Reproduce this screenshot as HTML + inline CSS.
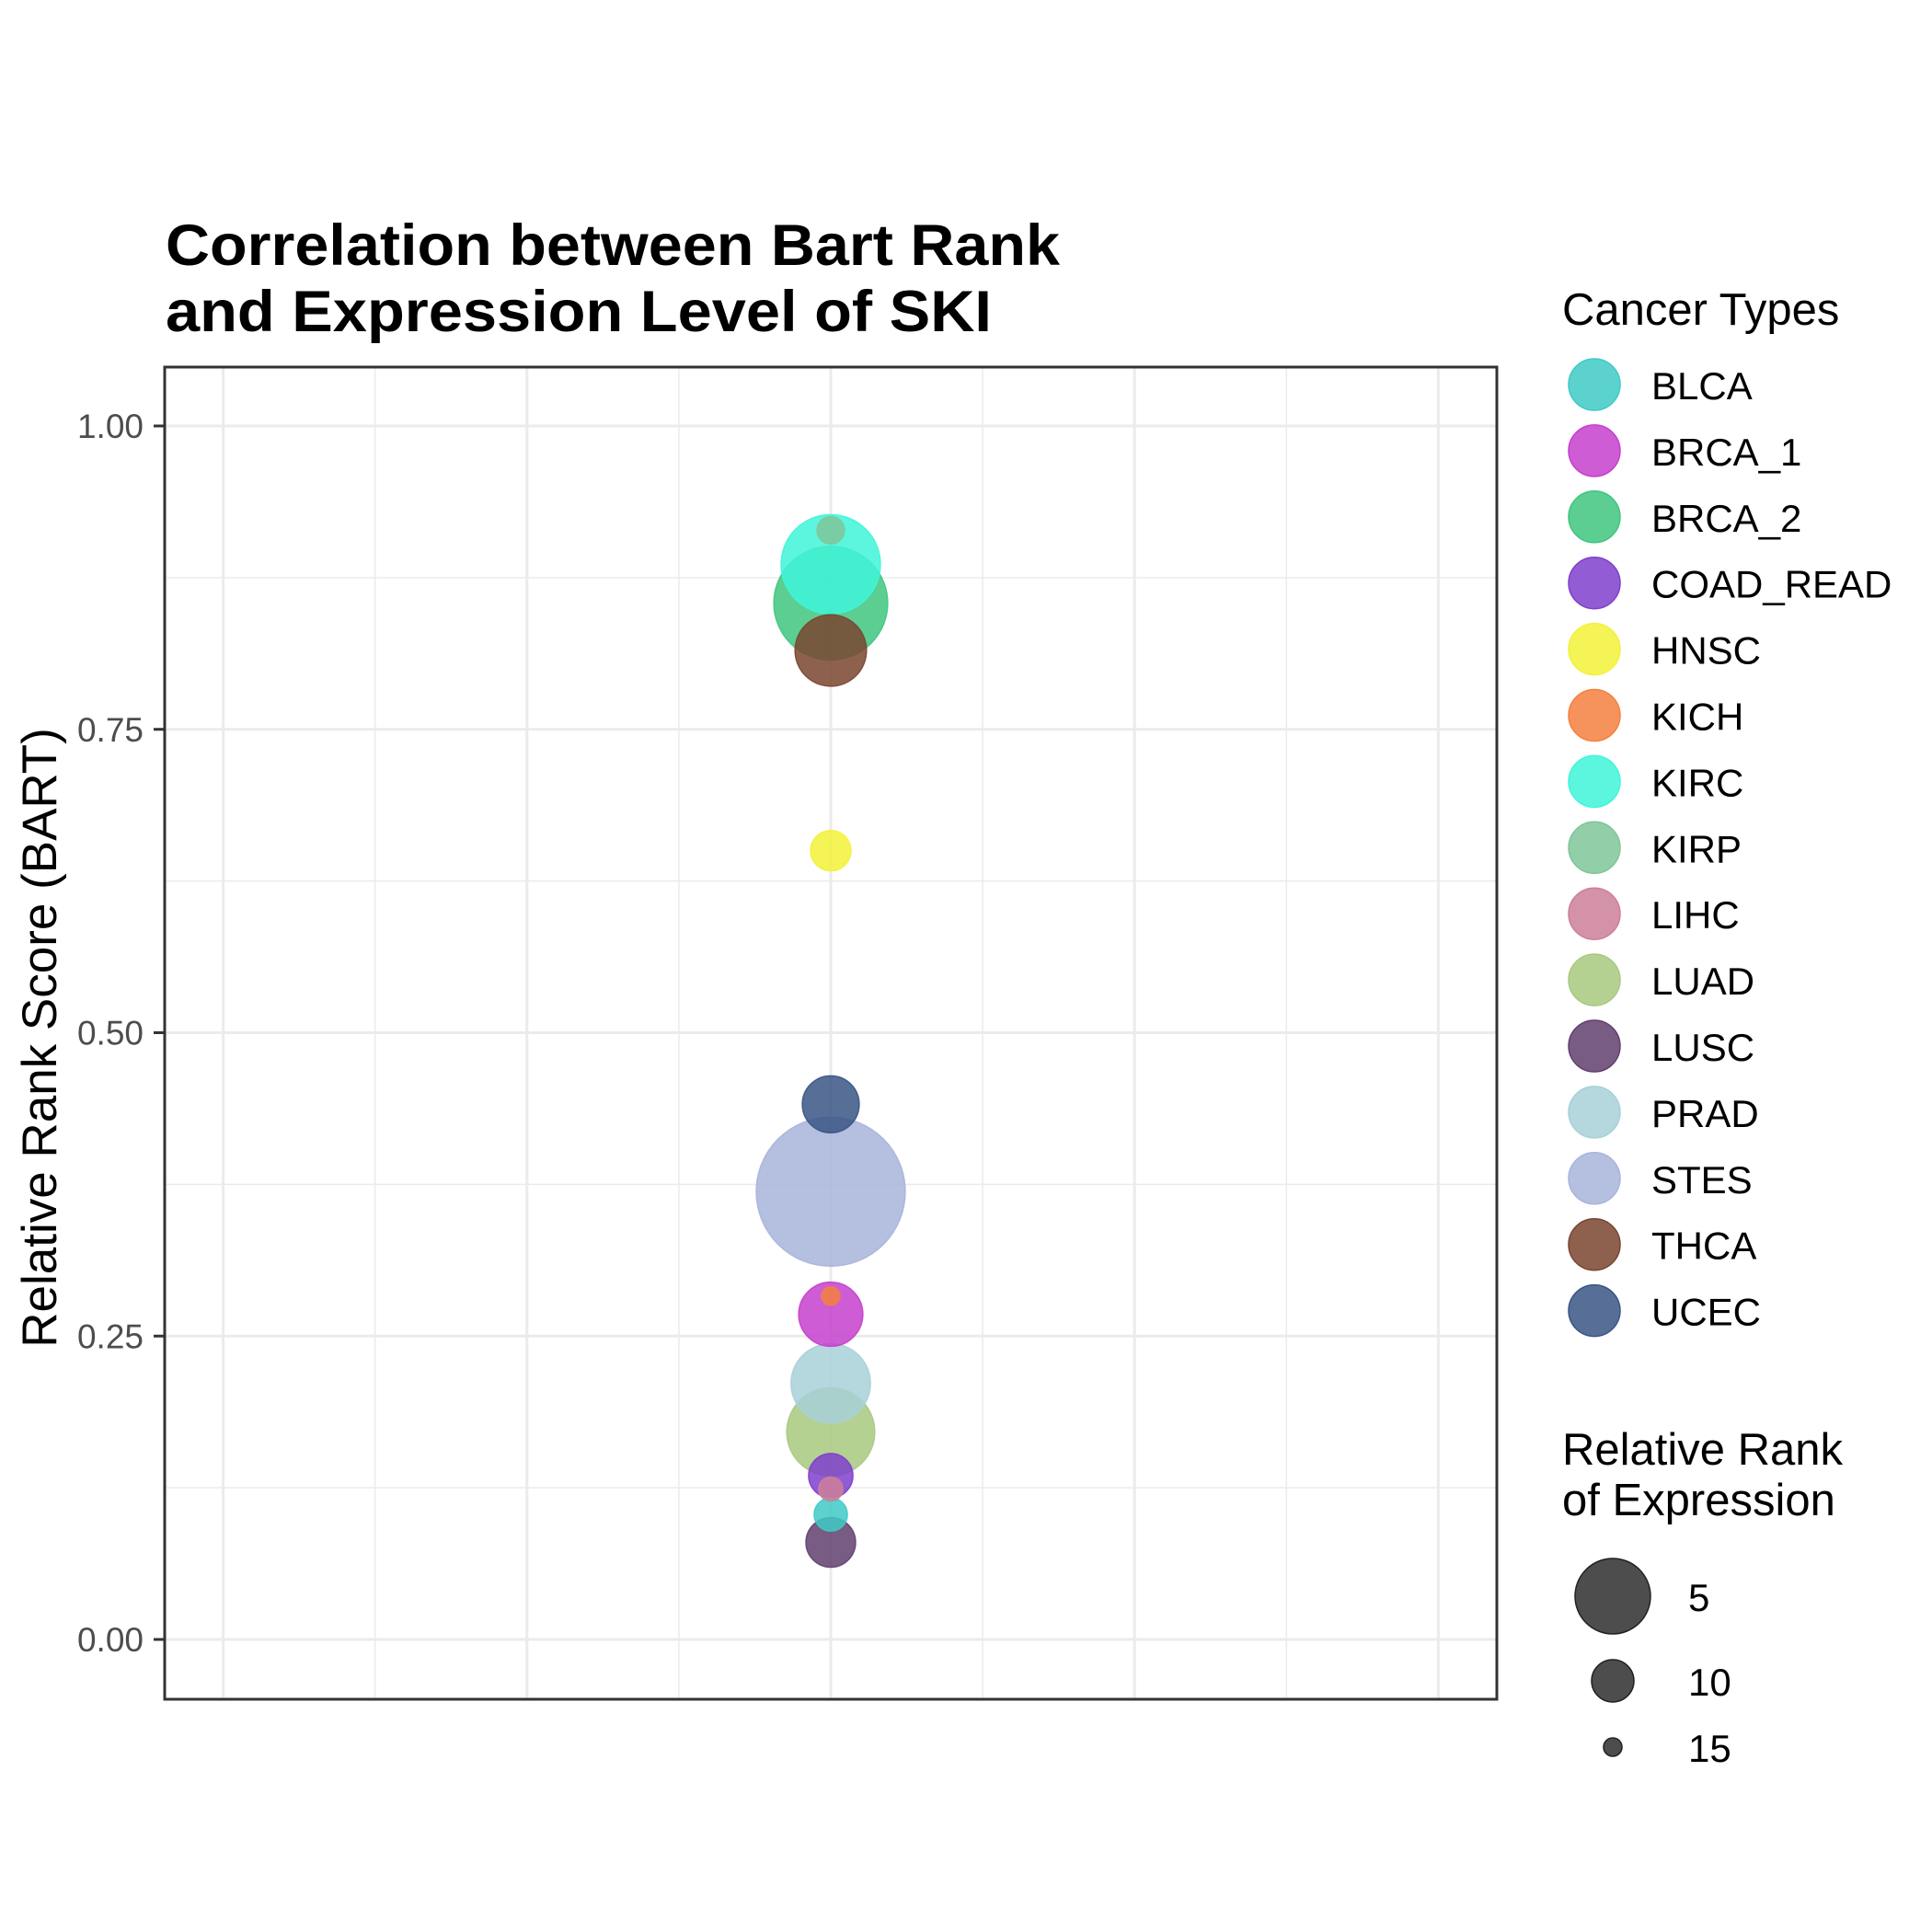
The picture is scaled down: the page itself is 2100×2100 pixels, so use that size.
<!DOCTYPE html>
<html><head><meta charset="utf-8"><style>
html,body{margin:0;padding:0;background:#fff;}
svg{display:block;font-family:"Liberation Sans",Arial,sans-serif;}
</style></head><body>
<svg id="chart" width="2100" height="2100" viewBox="0 0 2100 2100" xmlns="http://www.w3.org/2000/svg">
<rect width="2100" height="2100" fill="#fff"/>
<g>
<text x="180" y="288" font-size="63" font-weight="bold" textLength="972" lengthAdjust="spacingAndGlyphs">Correlation between Bart Rank</text>
<text x="180" y="360" font-size="63" font-weight="bold" textLength="898" lengthAdjust="spacingAndGlyphs">and Expression Level of SKI</text>
</g>
<g id="grid"></g>
<g id="points"></g>
<rect x="179" y="399" width="1448" height="1448" fill="none" stroke="#333" stroke-width="3"/>
<g id="yaxis"></g>
<text transform="translate(61,1128) rotate(-90)" text-anchor="middle" font-size="53">Relative Rank Score (BART)</text>
<g id="legend">
<text x="1698" y="353" font-size="49">Cancer Types</text>
</g>
<g id="sizelegend">
<text x="1698" y="1592" font-size="49">Relative Rank</text>
<text x="1698" y="1647" font-size="49">of Expression</text>
</g>
</svg>
<script>
const categories = ["BLCA","BRCA_1","BRCA_2","COAD_READ","HNSC","KICH","KIRC","KIRP","LIHC","LUAD","LUSC","PRAD","STES","THCA","UCEC"];
const bartScores = [0.103,0.268,0.854,0.135,0.650,0.283,0.886,0.914,0.124,0.171,0.080,0.211,0.369,0.815,0.441];
const expressionRanks = [11.9,6.7,-0.8,9.7,10.4,15,1.4,13.1,13.8,3.1,8.9,4.4,-6.1,5.6,7.8];
const colors = ["#3fcac6","#c63fcc","#3fc67f","#7f3fcc","#f2f23a","#f5803f","#3ff5d9","#7fc699","#cc7f99","#a8c97f","#62406f","#a8d0d8","#a8b4d9","#7a4530","#3a5585"];
const yTicks = [0,0.25,0.5,0.75,1.0];
const yTickLabels = ["0.00","0.25","0.50","0.75","1.00"];
const sizeBreaks = [5,10,15];

const NS="http://www.w3.org/2000/svg";
const L=179,R=1627,T=399,B=1847;
function yScale(v){return 1782 - v*1319;}
const xCenter=903, xStep=165.1;
function rScale(rank){
  if(rank<=10) return 23 + (10-rank)*3.6;
  return Math.max(2, 23 - (rank-10)*2.6);
}
function mk(tag,attrs,parent){const e=document.createElementNS(NS,tag);for(const k in attrs)e.setAttribute(k,attrs[k]);parent.appendChild(e);return e;}

const grid=document.getElementById('grid');
for(let i=-4;i<=4;i++){
  const x=xCenter+i*xStep;
  const ln=mk('line',{x1:x,x2:x,y1:T,y2:B,stroke:'#ebebeb','stroke-width':(i%2===0)?3:1.5},grid);
  
  
}
for(let v=-0.125;v<=1.126;v+=0.125){
  const y=yScale(v); if(y<T||y>B) continue;
  const major=Math.abs(Math.round(v/0.25)*0.25-v)<1e-6;
  const ln=mk('line',{x1:L,x2:R,y1:y,y2:y,stroke:'#ebebeb','stroke-width':major?3:1.5},grid);
  
  
}
const yax=document.getElementById('yaxis');
yTicks.forEach((v,i)=>{
  const y=yScale(v);
  const t=mk('line',{x1:167,x2:179,y1:y,y2:y,stroke:'#333','stroke-width':3},yax);
  
  
  const tx=mk('text',{x:156,y:y+13,'text-anchor':'end','font-size':37,fill:'#4d4d4d'},yax);
  tx.textContent=yTickLabels[i];
  
  
});
const pts=document.getElementById('points');
const order=categories.map((c,i)=>i).sort((a,b)=>rScale(expressionRanks[b])-rScale(expressionRanks[a]));
order.forEach(i=>{
  const c=mk('circle',{cx:xCenter,cy:yScale(bartScores[i]),r:rScale(expressionRanks[i]),fill:colors[i],'fill-opacity':0.85,stroke:colors[i],'stroke-opacity':0.9,'stroke-width':1.5},pts);
  
  
});
const leg=document.getElementById('legend');
categories.forEach((c,i)=>{
  const y=418+i*71.9;
  const cc=mk('circle',{cx:1733,cy:y,r:28,fill:colors[i],'fill-opacity':0.85,stroke:colors[i],'stroke-width':1.5},leg);
  
  
  const t=mk('text',{x:1795,y:y+16,'font-size':42},leg);
  t.textContent=c;
  
  
});
const sl=document.getElementById('sizelegend');
const sizeY=[1735,1827,1899];
sizeBreaks.forEach((s,i)=>{
  const cc=mk('circle',{cx:1753,cy:sizeY[i],r:rScale(s),fill:'#4d4d4d',stroke:'#222','stroke-width':1.5},sl);
  
  
  const t=mk('text',{x:1835,y:sizeY[i]+16,'font-size':42},sl);
  t.textContent=String(s);
  
  
});
</script>
</body></html>
